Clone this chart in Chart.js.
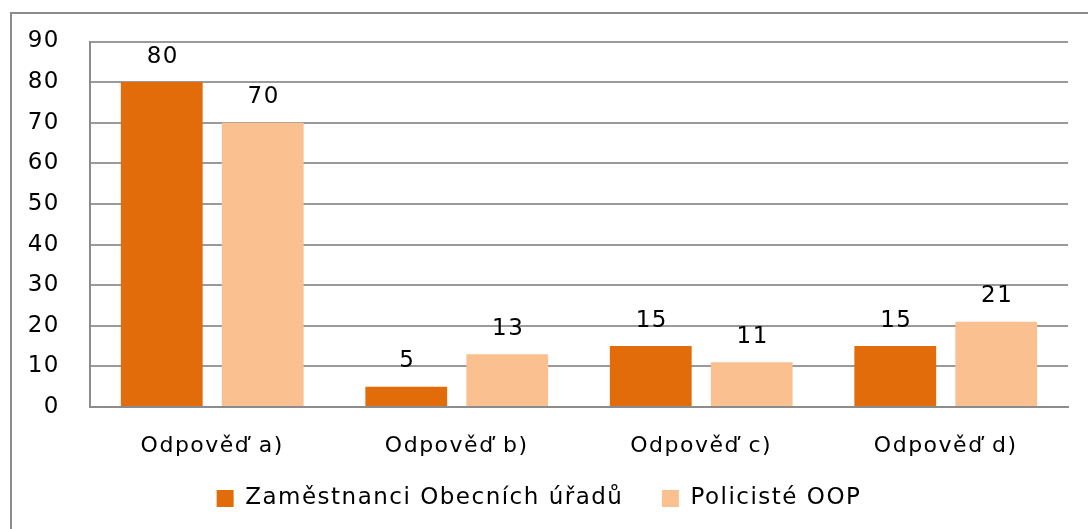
<!DOCTYPE html>
<html>
<head>
<meta charset="utf-8">
<script src="https://cdn.jsdelivr.net/npm/chart.js@4/dist/chart.umd.min.js"></script>
<style>
  body { margin: 0; background: #fff; }
  #wrap { width: 1088px; height: 529px; position: relative; }
</style>
</head>
<body>
<div id="wrap"><canvas id="result_chart" width="1088" height="529"></canvas></div>
<script>
// answers and counts per group
const categories = ['Odpověď a)', 'Odpověď b)', 'Odpověď c)', 'Odpověď d)']
const zamestnanci = [80, 5, 15, 15]
const policiste = [70, 13, 11, 21]
const seriesNames = ['Zaměstnanci Obecních úřadů', 'Policisté OOP']
const yTicks = [0, 10, 20, 30, 40, 50, 60, 70, 80, 90]

const font = "'DejaVu Sans', sans-serif"
const spacing = '1.5px'

// wide letter spacing like the original, and the outer frame
const framePlugin = {
    id: 'frame',
    beforeLayout(chart) {
        chart.ctx.letterSpacing = spacing
    },
    beforeDraw(chart) {
        const ctx = chart.ctx
        ctx.letterSpacing = spacing
        ctx.save()
        ctx.strokeStyle = '#8c8c8c'
        ctx.lineWidth = 2
        ctx.beginPath()
        ctx.moveTo(11, 540)
        ctx.lineTo(11, 13)
        ctx.lineTo(1100, 13)
        ctx.stroke()
        ctx.restore()
    }
}

// numbers above the bars
const valuePlugin = {
    id: 'values',
    afterDatasetsDraw(chart) {
        const ctx = chart.ctx
        ctx.save()
        ctx.font = '23px ' + font
        ctx.fillStyle = '#000'
        ctx.textAlign = 'center'
        ctx.textBaseline = 'bottom'
        chart.data.datasets.forEach((ds, i) => {
            chart.getDatasetMeta(i).data.forEach((bar, j) => {
                ctx.fillText(ds.data[j], bar.x + 1, bar.y - 14)
            })
        })
        ctx.restore()
    }
}

const frame = document.getElementById('result_chart')

new Chart(frame, {
    type: 'bar',
    data: {
        labels: categories,
        datasets: [
            {
                label: seriesNames[0],
                data: zamestnanci,
                backgroundColor: '#e36c0a',
                borderWidth: 0,
                categoryPercentage: 0.826,
                barPercentage: 0.81
            },
            {
                label: seriesNames[1],
                data: policiste,
                backgroundColor: '#fac090',
                borderWidth: 0,
                categoryPercentage: 0.826,
                barPercentage: 0.81
            }
        ]
    },
    options: {
        responsive: false,
        animation: false,
        maintainAspectRatio: false,
        layout: {
            padding: { left: 10, top: 20, right: 20, bottom: 9 }
        },
        scales: {
            y: {
                min: 0,
                max: 90,
                afterFit(scale) { scale.width = 80 },
                afterBuildTicks(scale) { scale.ticks = yTicks.map(v => ({ value: v })) },
                ticks: {
                    padding: 30,
                    color: '#000',
                    font: { size: 23, family: font, lineHeight: 1 }
                },
                grid: {
                    color: '#9a9a9a',
                    lineWidth: 2,
                    drawTicks: false
                },
                border: { color: '#8c8c8c', width: 2 }
            },
            x: {
                afterFit(scale) { scale.height = 68 },
                ticks: {
                    padding: 26,
                    color: '#000',
                    font: { size: 22, family: font }
                },
                grid: { display: false, drawTicks: false },
                border: { color: '#8c8c8c', width: 2 }
            }
        },
        plugins: {
            tooltip: { enabled: false },
            legend: {
                position: 'bottom',
                labels: {
                    color: '#000',
                    font: { size: 23, family: font },
                    boxWidth: 17,
                    boxHeight: 17,
                    padding: 12,
                    // extra room after the first entry, as in the original
                    generateLabels(chart) {
                        const items = Chart.defaults.plugins.legend.labels.generateLabels(chart)
                        items[0].text = items[0].text + '   '
                        return items
                    }
                }
            }
        }
    },
    plugins: [framePlugin, valuePlugin]
})
</script>
</body>
</html>
